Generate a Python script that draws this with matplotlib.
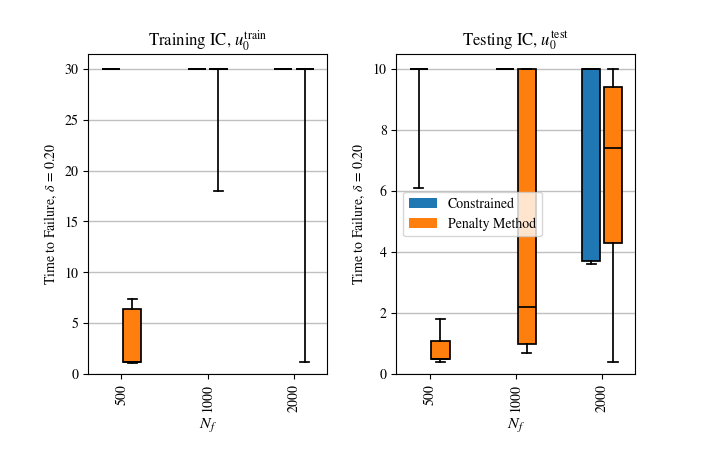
import numpy as np
import matplotlib
matplotlib.use("Agg")
import matplotlib.pyplot as plt
from matplotlib.patches import Patch

plt.rcParams['font.family'] = ['STIXGeneral', 'DejaVu Serif']
plt.rcParams['mathtext.fontset'] = 'stix'
plt.rcParams['font.size'] = 10

groups = ['500', '1000', '2000']
methods = ['Constrained', 'Penalty Method']
colors = ['#1f77b4', '#ff7f0e']

# Training IC stats per method: whislo, q1, med, q3, whishi
train_con_whislo = [30, 30, 30]
train_con_q1 = [30, 30, 30]
train_con_med = [30, 30, 30]
train_con_q3 = [30, 30, 30]
train_con_whishi = [30, 30, 30]

train_pen_whislo = [1.05, 18.0, 1.2]
train_pen_q1 = [1.2, 30, 30]
train_pen_med = [1.2, 30, 30]
train_pen_q3 = [6.35, 30, 30]
train_pen_whishi = [7.4, 30, 30]

# Testing IC stats
test_con_whislo = [6.1, 10, 3.6]
test_con_q1 = [10, 10, 3.7]
test_con_med = [10, 10, 10]
test_con_q3 = [10, 10, 10]
test_con_whishi = [10, 10, 10]

test_pen_whislo = [0.4, 0.7, 0.4]
test_pen_q1 = [0.5, 1.0, 4.3]
test_pen_med = [0.5, 2.2, 7.4]
test_pen_q3 = [1.1, 10, 9.4]
test_pen_whishi = [1.8, 10, 10]


def make_stats(lo, q1, med, q3, hi):
    return [dict(whislo=a, q1=b, med=c, q3=d, whishi=e, fliers=[])
            for a, b, c, d, e in zip(lo, q1, med, q3, hi)]


panels = [
    ("Training IC, $u_0^{\\mathrm{train}}$",
     [make_stats(train_con_whislo, train_con_q1, train_con_med, train_con_q3, train_con_whishi),
      make_stats(train_pen_whislo, train_pen_q1, train_pen_med, train_pen_q3, train_pen_whishi)]),
    ("Testing IC, $u_0^{\\mathrm{test}}$",
     [make_stats(test_con_whislo, test_con_q1, test_con_med, test_con_q3, test_con_whishi),
      make_stats(test_pen_whislo, test_pen_q1, test_pen_med, test_pen_q3, test_pen_whishi)]),
]

fig, axes = plt.subplots(1, 2, figsize=(7.06, 4.54), dpi=100)
fig.subplots_adjust(left=0.125, right=0.9, top=0.881, bottom=0.176, wspace=0.29)

x = np.arange(len(groups))
offset = 0.125
width = 0.21
lw = 1.25
for ax, (title, stats_list) in zip(axes, panels):
    for j, stats in enumerate(stats_list):
        pos = x + (j - 0.5) * 2 * offset
        ax.bxp(stats, positions=pos, widths=width, patch_artist=True,
               showfliers=False, manage_ticks=False,
               boxprops=dict(facecolor=colors[j], edgecolor='black', linewidth=lw),
               medianprops=dict(color='black', linewidth=lw),
               whiskerprops=dict(color='black', linewidth=lw),
               capprops=dict(color='black', linewidth=lw))
    ax.set_xticks(x)
    ax.set_xticklabels(groups, rotation=90)
    ax.set_xlim(-0.385, 2.385)
    ax.yaxis.grid(True, color='#c0c0c0', linewidth=1.0)
    ax.set_axisbelow(True)
    ax.set_title(title)
    ax.set_xlabel('$N_f$', fontsize=11.5)
    ax.set_ylabel('Time to Failure, $\\delta\\,=\\,0.20$')

axes[0].set_ylim(0, 31.45)
axes[1].set_ylim(0, 10.48)
axes[0].set_yticks([0, 5, 10, 15, 20, 25, 30])
axes[1].set_yticks([0, 2, 4, 6, 8, 10])

handles = [Patch(facecolor=c, label=m) for c, m in zip(colors, methods)]
axes[1].legend(handles=handles, loc='center left')

fig.savefig('out.png', dpi=100)
